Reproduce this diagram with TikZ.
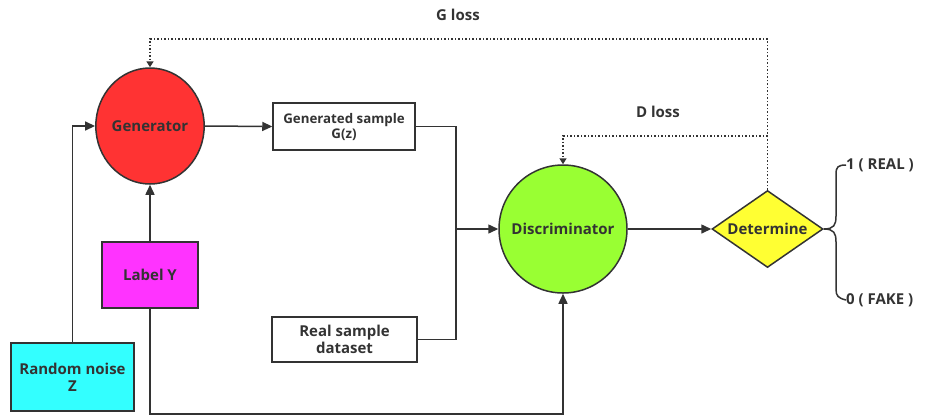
\documentclass[tikz,border=0pt]{standalone}
\usepackage{fontspec}
\setmainfont{Open Sans}
\usetikzlibrary{arrows.meta,shapes.geometric,calc}
\definecolor{ln}{HTML}{333333}
\definecolor{genred}{HTML}{FF3333}
\definecolor{disgreen}{HTML}{99FF33}
\definecolor{detyellow}{HTML}{FFFF33}
\definecolor{labmag}{HTML}{FF33FF}
\definecolor{noisecyan}{HTML}{33FFFF}
\begin{document}
\begin{tikzpicture}[x=1pt,y=-1pt,
  every node/.style={text=ln,font=\bfseries\fontsize{15}{17}\selectfont},
  box/.style={draw=ln,line width=1.5pt,rectangle,inner sep=0pt,align=center},
  conn/.style={draw=ln,line width=1.5pt},
  arr/.style={conn,-{Triangle[length=10pt,width=9pt]}},
  dotline/.style={draw=ln,line width=1.5pt,dash pattern=on 1.5pt off 2pt},
  dotarr/.style={dotline,-{Triangle[length=6pt,width=7pt]}},
  lbl/.style={inner sep=0pt}]
\useasboundingbox (0,0) rectangle (925,416);
% nodes
\node[ellipse,draw=ln,line width=1.5pt,fill=genred,minimum width=108pt,minimum height=116pt,inner sep=0pt] (gen) at (150,126) {Generator};
\node[box,minimum width=142pt,minimum height=47pt,font=\bfseries\fontsize{13.3}{15}\selectfont] (gs) at (344,126.5) {Generated sample\\G(z)};
\node[box,fill=labmag,minimum width=96pt,minimum height=66pt] (lab) at (150,275) {Label Y};
\node[box,fill=noisecyan,minimum width=123pt,minimum height=68pt] (noise) at (72.5,377) {Random noise\\Z};
\node[box,minimum width=145pt,minimum height=45pt] (real) at (344.5,339.5) {Real sample\\dataset};
\node[circle,draw=ln,line width=1.5pt,fill=disgreen,minimum size=128pt,inner sep=0pt] (dis) at (563,229) {Discriminator};
\node[diamond,draw=ln,line width=1.5pt,fill=detyellow,minimum width=111pt,minimum height=77pt,aspect=1.44,inner sep=0pt] (det) at (767.5,229) {Determine};
\node[lbl] (gloss) at (458,15) {G loss};
\node[lbl] (dloss) at (658,112) {D loss};
\node[lbl,anchor=west] (real1) at (846,165) {1~(~REAL~)};
\node[lbl,anchor=west] (fake0) at (846,300) {0~(~FAKE~)};
% coordinates
\coordinate (j) at (456,229);
\coordinate (b) at (563,414);
\coordinate (gl) at (767.5,39);
\coordinate (dl) at (767.5,136);
% connectors
\draw[arr] (noise.north) |- (gen.west);
\draw[arr] (lab.north) -- (gen.south);
\draw[arr] (gen.east) -- (gs.west);
\draw[conn] (gs.east) -| (j);
\draw[conn] (real.east) -| (j);
\draw[arr] (j) -- (dis.west);
\draw[arr] (lab.south) |- (b) -- (dis.south);
\draw[arr] (dis.east) -- (det.west);
\draw[dotline] (det.north) -- (gl);
\draw[dotarr] (gl) -| (gen.north);
\draw[dotarr] (dl) -| (dis.north);
% brace
\draw[conn] (det.east) .. controls (834,229) and (836,225) .. (836,216) -- (836,174) .. controls (836,167) and (838,165) .. (real1.west);
\draw[conn] (det.east) .. controls (834,229) and (836,233) .. (836,242) -- (836,289) .. controls (836,296) and (838,298) .. (fake0.west);
\end{tikzpicture}
\end{document}
